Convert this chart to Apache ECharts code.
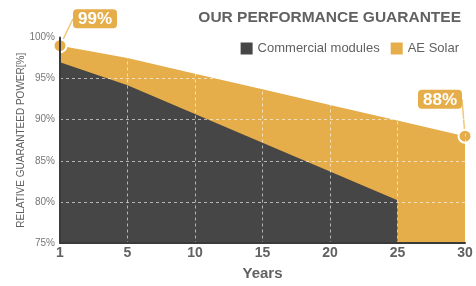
<!DOCTYPE html>
<html>
<head>
<meta charset="utf-8">
<script src="https://cdn.jsdelivr.net/npm/echarts@6/dist/echarts.min.js"></script>
<style>
  html, body { margin: 0; padding: 0; background: #fff; }
  #chart { width: 476px; height: 286px; }
</style>
</head>
<body>
<div id="chart"></div>
<script>
// years shown on the axis
const years = ['1', '5', '10', '15', '20', '25', '30']
// relative guaranteed power (%)
const aeSolar = [99, 97.5, 95.6, 93.7, 91.8, 89.9, 88]
const commercial = [97, 94.2, 90.7, 87.2, 83.7, 80.2, null]

const orange = '#E6AE4B'
const dark = '#464646'
const grey = '#616161'

const chart = echarts.init(document.getElementById('chart'), null, { renderer: 'canvas' })

const calloutLabel = {
  show: true,
  position: 'top',
  formatter: '{c}%',
  color: '#fff',
  fontSize: 17,
  fontWeight: 'bold',
  fontFamily: 'Liberation Sans, Arial, sans-serif',
  backgroundColor: orange,
  borderRadius: 4,
  padding: [2, 5, 0, 5]
}

// only the first and last points get a dot and a callout
const aeData = aeSolar.map((v, i) => {
  if (i === 0 || i === aeSolar.length - 1) {
    return {
      value: v,
      symbol: 'circle',
      symbolSize: 13,
      itemStyle: { color: orange, borderColor: '#fff', borderWidth: 2 },
      label: calloutLabel
    }
  }
  return v
})

const option = {
  animation: false,
  textStyle: { fontFamily: 'Liberation Sans, Arial, sans-serif' },
  title: {
    text: 'OUR PERFORMANCE GUARANTEE',
    right: 10,
    top: 5,
    textStyle: { fontSize: 15.5, fontWeight: 'bold', color: grey }
  },
  legend: {
    data: ['Commercial modules', 'AE Solar'],
    z: 10,
    right: 12,
    top: 37,
    icon: 'rect',
    itemWidth: 12,
    itemHeight: 12,
    itemGap: 11,
    itemStyle: { borderWidth: 0 },
    textStyle: { fontSize: 13, color: grey }
  },
  grid: { left: 60, right: 11, top: 37.5, bottom: 40 },
  xAxis: {
    type: 'category',
    data: years,
    boundaryGap: false,
    z: 5,
    name: 'Years',
    nameLocation: 'middle',
    nameGap: 23,
    nameTextStyle: { fontSize: 15, fontWeight: 'bold', color: grey },
    axisLine: { lineStyle: { color: '#3a3a3a', width: 2 } },
    axisTick: { show: false },
    axisLabel: { fontSize: 14, fontWeight: 'bold', color: grey, margin: 3 },
    splitLine: {
      show: true,
      lineStyle: { color: 'rgba(255,255,255,0.6)', type: [3, 3], width: 1 }
    }
  },
  yAxis: {
    type: 'value',
    min: 75,
    max: 100,
    interval: 5,
    z: 5,
    name: 'RELATIVE GUARANTEED POWER[%]',
    nameLocation: 'middle',
    nameGap: 34,
    nameMoveOverlap: false,
    nameTextStyle: { fontSize: 10, color: grey },
    axisLine: { show: true, lineStyle: { color: '#3a3a3a', width: 2 } },
    axisTick: { show: false },
    axisLabel: { fontSize: 10, color: '#777', margin: 5, formatter: '{value}%' },
    splitLine: {
      show: true,
      lineStyle: { color: 'rgba(255,255,255,0.6)', type: [3, 3], width: 1 }
    }
  },
  series: [
    {
      name: 'AE Solar',
      type: 'line',
      data: aeData,
      z: 2,
      symbol: 'none',
      color: orange,
      itemStyle: { color: orange },
      lineStyle: { width: 0 },
      areaStyle: { color: orange, opacity: 1 },
      labelLine: { show: true, lineStyle: { color: '#F0C878', width: 1.5 } },
      labelLayout: (p) => {
        if (p.dataIndex === 0) return { dx: 35, dy: -5 }
        return { dx: -25, dy: -15 }
      }
    },
    {
      name: 'Commercial modules',
      type: 'line',
      data: commercial,
      z: 3,
      color: dark,
      itemStyle: { color: dark },
      symbol: 'none',
      lineStyle: { width: 0 },
      areaStyle: { color: dark, opacity: 1 }
    }
  ]
}

chart.setOption(option)
</script>
</body>
</html>
